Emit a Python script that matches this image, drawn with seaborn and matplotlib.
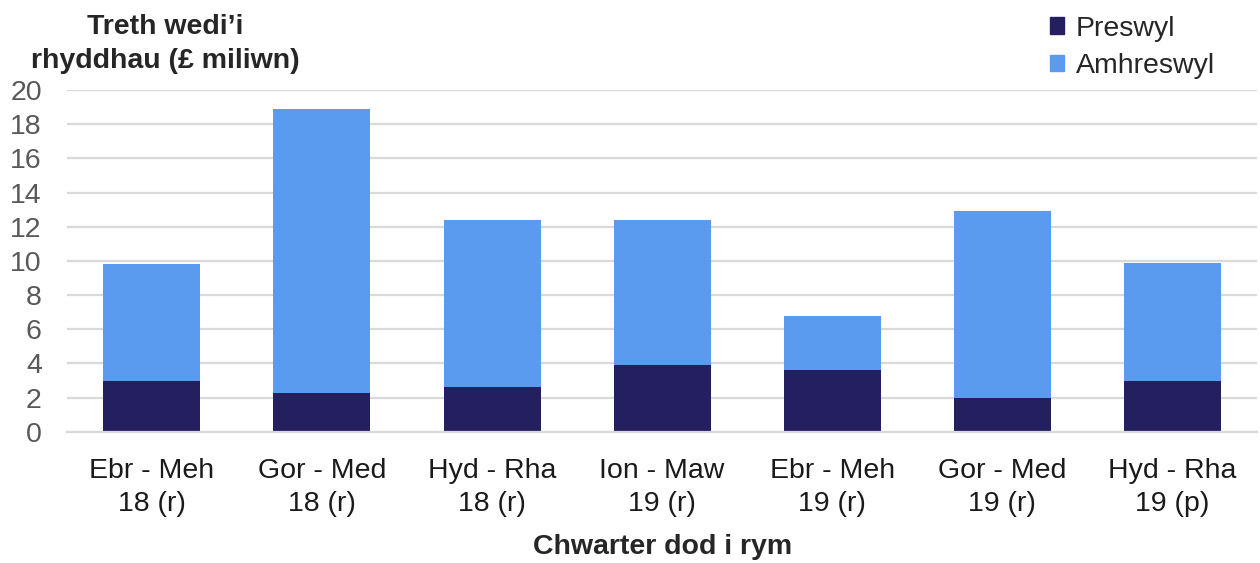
import pandas as pd
import numpy as np
import seaborn as sns
import matplotlib.pyplot as plt
from matplotlib.patches import Patch

# Data (£ million)
quarters = ['Ebr - Meh\n18 (r)', 'Gor - Med\n18 (r)', 'Hyd - Rha\n18 (r)', 'Ion - Maw\n19 (r)',
            'Ebr - Meh\n19 (r)', 'Gor - Med\n19 (r)', 'Hyd - Rha\n19 (p)']
preswyl = [3.0, 2.3, 2.6, 3.9, 3.6, 2.0, 3.0]
amhreswyl = [6.8, 16.6, 9.8, 8.5, 3.2, 10.9, 6.9]

df = pd.DataFrame({'quarter': quarters, 'Preswyl': preswyl, 'Amhreswyl': amhreswyl})
df['total'] = df['Preswyl'] + df['Amhreswyl']

dark = '#241F5F'
light = '#5B9BEF'
grey = '#595959'
fs = 20.5

sns.set_theme(style='white')
plt.rcParams['font.family'] = ['Arial', 'Liberation Sans', 'DejaVu Sans']

fig = plt.figure(figsize=(12.6, 5.63), dpi=100)
ax = fig.add_axes([0.053, 0.233, 0.945, 0.607])

# stacked bars: total first, residential drawn over it from zero
sns.barplot(data=df, x='quarter', y='total', color=light, width=0.57, saturation=1,
            linewidth=0, ax=ax)
sns.barplot(data=df, x='quarter', y='Preswyl', color=dark, width=0.57, saturation=1,
            linewidth=0, ax=ax)

ax.set_ylim(0, 20)
ax.set_xlim(-0.5, 6.5)
ax.set_yticks(range(0, 21, 2))
ax.yaxis.grid(True, color='#D9D9D9', linewidth=1.6)
ax.set_axisbelow(True)
for s in ['top', 'right', 'left']:
    ax.spines[s].set_visible(False)
ax.spines['bottom'].set_color('#D9D9D9')
ax.spines['bottom'].set_linewidth(1.6)

ax.tick_params(axis='y', labelsize=fs, labelcolor=grey, length=0, pad=18)
ax.tick_params(axis='x', which='major', labelsize=fs, labelcolor='#1a1a1a', length=0, pad=19)
ax.set_xticks(np.arange(-0.5, 7, 1), minor=True)
ax.tick_params(axis='x', which='minor', length=9, width=1.6, color='#D9D9D9', direction='out')
for lbl in ax.get_xticklabels():
    lbl.set_linespacing(1.35)

ax.set_xlabel('Chwarter dod i rym', fontsize=fs, fontweight='bold', labelpad=12)
ax.set_ylabel('')

fig.text(0.131, 0.975, 'Treth wedi’i\nrhyddhau (£ miliwn)', fontsize=fs, fontweight='bold',
         ha='center', va='top', linespacing=1.4)

handles = [Patch(color=dark, label='Preswyl'), Patch(color=light, label='Amhreswyl')]
fig.legend(handles=handles, loc='upper left', bbox_to_anchor=(0.821, 1.0), frameon=False,
           fontsize=fs, handlelength=0.5, handleheight=0.5, handletextpad=0.4,
           labelspacing=0.4, borderaxespad=0.15)

fig.savefig('out.png', dpi=100)
